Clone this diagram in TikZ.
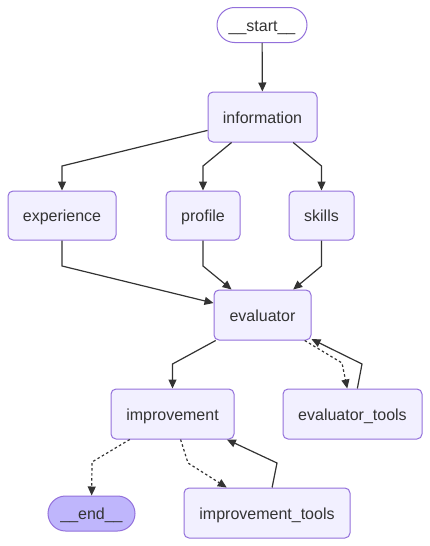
\documentclass[tikz,border=0pt]{standalone}
\usepackage{fontspec}
\setmainfont{Liberation Sans}
\usetikzlibrary{arrows.meta}
\definecolor{nodefill}{HTML}{F2F0FF}
\definecolor{nodeborder}{HTML}{9370DB}
\definecolor{endfill}{HTML}{BFB6FC}
\definecolor{ink}{HTML}{333333}
\begin{document}
\begin{tikzpicture}[x=1pt,y=-1pt,
  box/.style={draw=nodeborder,fill=nodefill,line width=1pt,rounded corners=5pt,
    inner sep=0pt,minimum height=50pt,text=ink,font=\fontsize{16}{19}\selectfont,
    text height=12.5pt,text depth=0.5pt},
  pill/.style={box,rounded corners=17.5pt,minimum height=35pt},
  edge/.style={draw=ink,line width=1.2pt,-{Triangle[length=9pt,width=8pt]}},
  dedge/.style={edge,dash pattern=on 2.5pt off 2.5pt}]
\useasboundingbox (0,0) rectangle (430,546);
\node[pill,fill=white,minimum width=90pt] (start) at (262,25) {\_\_start\_\_};
\node[box,minimum width=109pt] (info) at (262.5,117) {information};
\node[box,minimum width=108pt,minimum height=49pt] (exp) at (62,215.5) {experience};
\node[box,minimum width=74pt,minimum height=49pt] (prof) at (203,215.5) {profile};
\node[box,minimum width=65pt,minimum height=49pt] (skills) at (321.5,215.5) {skills};
\node[box,minimum width=97pt] (eval) at (262.5,315) {evaluator};
\node[box,minimum width=123pt] (impr) at (172.5,414) {improvement};
\node[box,minimum width=139pt] (etools) at (352.5,414) {evaluator\_tools};
\node[pill,fill=endfill,minimum width=87pt] (end) at (91.5,513.5) {\_\_end\_\_};
\node[box,minimum width=166pt] (itools) at (267,513) {improvement\_tools};

\draw[edge] (start) -- (info);
\draw[edge] (info) -- (62,166) -- (exp);
\draw[edge] (info) -- (203,166) -- (prof);
\draw[edge] (info) -- (321.5,166) -- (skills);
\draw[edge] (exp) -- (62,266) -- (eval);
\draw[edge] (prof) -- (203,266) -- (eval);
\draw[edge] (skills) -- (321.5,266) -- (eval);
\draw[edge] (eval) -- (172.5,364) -- (impr);
\draw[dedge] (eval) -- (342,363) -- (etools);
\draw[edge] (etools) -- (362,364) -- (eval);
\draw[dedge] (impr) -- (92,462) -- (end);
\draw[dedge] (impr) -- (188,463) -- (itools);
\draw[edge] (itools) -- (277,463) -- (impr);
\end{tikzpicture}
\end{document}
